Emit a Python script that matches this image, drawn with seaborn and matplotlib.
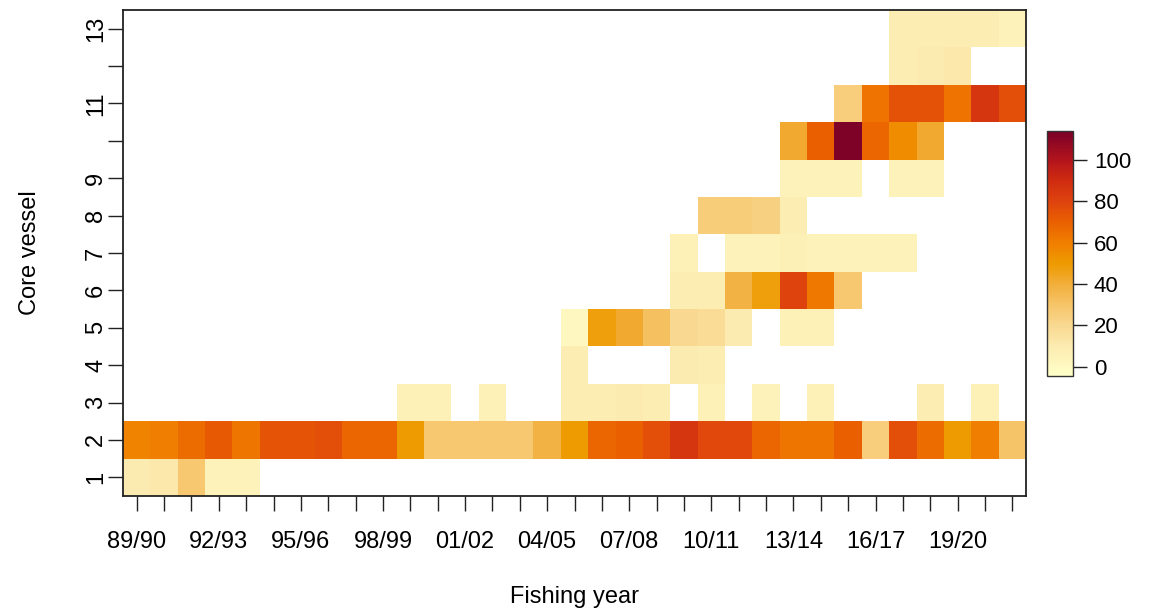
import numpy as np
import pandas as pd
import matplotlib
matplotlib.use("Agg")
import matplotlib.pyplot as plt
import seaborn as sns
from matplotlib.colors import LinearSegmentedColormap

plt.rcParams['font.family'] = ['Liberation Sans', 'DejaVu Sans']

NA = np.nan

years = ["89/90", "90/91", "91/92", "92/93", "93/94", "94/95", "95/96", "96/97",
         "97/98", "98/99", "99/00", "00/01", "01/02", "02/03", "03/04", "04/05",
         "05/06", "06/07", "07/08", "08/09", "09/10", "10/11", "11/12", "12/13",
         "13/14", "14/15", "15/16", "16/17", "17/18", "18/19", "19/20", "20/21",
         "21/22"]
labelled_years = ["89/90", "92/93", "95/96", "98/99", "01/02", "04/05", "07/08",
                  "10/11", "13/14", "16/17", "19/20"]
vessels = [1, 2, 3, 4, 5, 6, 7, 8, 9, 10, 11, 12, 13]
labelled_vessels = [1, 2, 3, 4, 5, 6, 7, 8, 9, 11, 13]
cbar_ticks = [0, 20, 40, 60, 80, 100]

v1 = [10, 12, 28, 5, 5] + [NA] * 28
v2 = [58, 60, 66, 72, 63, 74, 74, 76, 68, 68, 50, 28, 28, 28, 28, 38, 50, 68, 70, 76,
      86, 78, 78, 68, 63, 63, 70, 25, 76, 66, 50, 60, 30]
v3 = [NA] * 10 + [6, 6, NA, 6, NA, NA, 8, 8, 10, 8, NA, 6, NA, 4, NA, 6, NA, NA, NA, 8,
                  NA, 6, NA]
v4 = [NA] * 16 + [8, NA, NA, NA, 10, 8] + [NA] * 11
v5 = [NA] * 16 + [1, 48, 42, 32, 20, 18, 10, NA, 6, 6] + [NA] * 7
v6 = [NA] * 20 + [8, 8, 38, 48, 80, 62, 28] + [NA] * 6
v7 = [NA] * 20 + [6, NA, 5, 5, 7, 5, 5, 5, 5] + [NA] * 4
v8 = [NA] * 21 + [26, 26, 24, 8] + [NA] * 8
v9 = [NA] * 24 + [5, 5, 5, NA, 5, 5] + [NA] * 3
v10 = [NA] * 24 + [42, 70, 113, 68, 55, 42] + [NA] * 3
v11 = [NA] * 26 + [25, 64, 75, 75, 64, 86, 76]
v12 = [NA] * 28 + [8, 10, 12, NA, NA]
v13 = [NA] * 28 + [8, 8, 8, 8, 5]

rows = [v1, v2, v3, v4, v5, v6, v7, v8, v9, v10, v11, v12, v13]
df = pd.DataFrame(rows[::-1], index=vessels[::-1], columns=years)

vmin, vmax = -4.5, 114
stops = [(-4.5, "#FFFFC8"), (10, "#FCEBB0"), (20, "#F9D890"), (30, "#F6C468"),
         (40, "#F2AE3A"), (50, "#EE9A00"), (60, "#F07E00"), (70, "#EA6000"),
         (80, "#DE430E"), (90, "#D02C10"), (100, "#B3141C"), (114, "#7A0028")]
cmap = LinearSegmentedColormap.from_list(
    "ylorrd_hcl", [((v - vmin) / (vmax - vmin), c) for v, c in stops])

fig = plt.figure(figsize=(11.49, 6.15), dpi=100)
ax = fig.add_axes([123 / 1149, 1 - 496 / 615, (1026 - 123) / 1149, (496 - 10) / 615])
cax = fig.add_axes([1047 / 1149, 1 - 376 / 615, 26 / 1149, 245 / 615])

sns.heatmap(df, ax=ax, cmap=cmap, vmin=vmin, vmax=vmax, cbar_ax=cax,
            cbar_kws={"ticks": cbar_ticks})

# x axis
ax.set_xticks(np.arange(len(years)) + 0.5)
ax.set_xticklabels([y if y in labelled_years else "" for y in years],
                   rotation=0, fontsize=17)
# y axis
row_order = list(df.index)
ax.set_yticks(np.arange(len(row_order)) + 0.5)
ax.set_yticklabels([str(v) if v in labelled_vessels else "" for v in row_order],
                   rotation=90, va="center", fontsize=17)

ax.tick_params(axis="x", length=11, width=1, direction="out", pad=14, color="#222222")
ax.tick_params(axis="y", length=11, width=1, direction="out", pad=0.5, color="#222222")
for s in ax.spines.values():
    s.set_visible(True)
    s.set_color("#222222")
    s.set_linewidth(1.3)

ax.set_xlabel("Fishing year", fontsize=17, labelpad=24)
ax.set_ylabel("Core vessel", fontsize=17, labelpad=32)

cb = ax.collections[0].colorbar
cb.outline.set_visible(True)
cb.outline.set_linewidth(1)
cb.outline.set_edgecolor("#333333")
cax.tick_params(length=10, width=1, labelsize=16, pad=5, color="#222222")

fig.savefig("out.png", dpi=100, facecolor="white")
